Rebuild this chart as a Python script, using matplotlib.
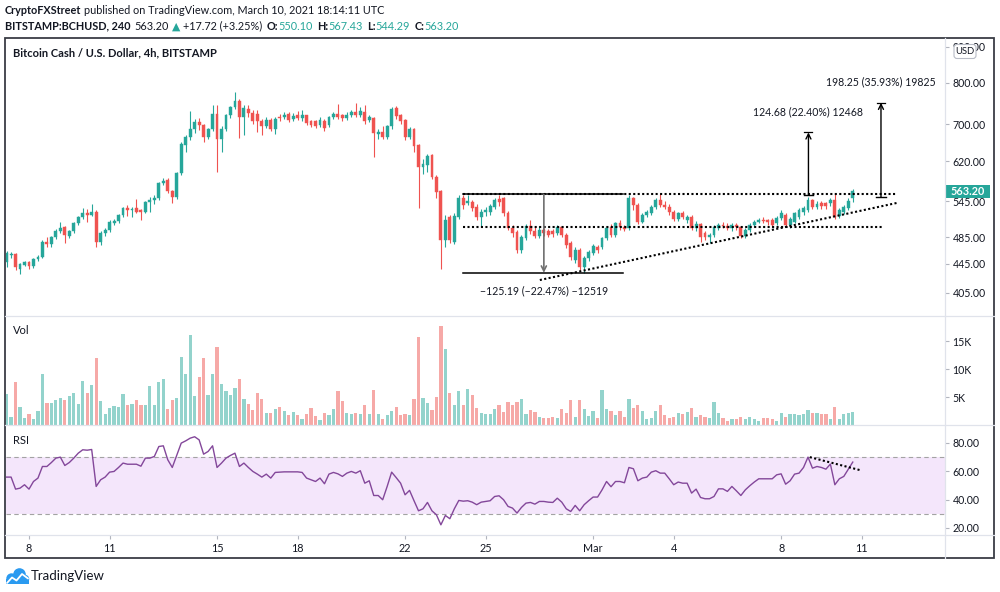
import numpy as np
import pandas as pd
import matplotlib
matplotlib.use("Agg")
import matplotlib.pyplot as plt
from matplotlib.patches import Rectangle, FancyBboxPatch, Circle

# ---------------- data ----------------
start_time = "2021-02-07 04:00"
bar_hours = 4

opens = [447,457,459,438,443,447,441,452,455,478,
         475,485,494,501,487,494,508,518,524,522,
         527,477,491,496,508,511,521,533,529,533,
         529,527,543,547,551,579,584,563,553,597,
         654,671,690,704,698,671,688,724,666,690,
         721,739,755,716,735,726,724,706,696,709,
         688,716,716,724,712,722,714,720,706,706,
         698,708,698,716,724,721,713,721,727,721,
         727,709,713,677,682,672,695,737,721,709,
         672,690,654,610,613,633,590,563,481,518,
         477,518,550,541,543,535,518,526,527,535,
         549,550,525,500,493,465,484,503,494,487,
         496,495,495,491,501,488,476,450,465,440,
         453,461,470,470,484,502,488,508,501,500,
         550,538,510,521,525,535,547,538,535,526,
         515,524,512,518,499,506,491,486,488,500,
         505,503,499,505,501,487,496,505,510,513,
         512,512,507,516,522,505,510,518,526,530,
         547,535,541,541,541,547,520,527,533,550.10]
highs = [463,462,461,446,449,449,454,458,480,485,
         487,498,510,503,497,510,520,533,531,540,
         529,494,499,512,514,523,535,539,535,549,
         531,546,552,556,581,587,588,566,600,660,
         676,730,712,714,700,692,745,745,695,724,
         742,777,760,745,745,733,733,712,716,713,
         716,724,727,727,725,730,733,722,710,709,
         716,711,719,727,746,724,727,733,750,740,
         745,720,716,690,695,698,740,742,724,712,
         693,692,656,625,635,636,593,566,522,521,
         524,556,557,557,548,540,532,535,540,551,
         556,553,528,505,497,488,506,512,501,503,
         499,498,498,504,503,491,479,470,468,456,
         465,474,473,486,503,506,510,512,505,556,
         553,541,524,530,538,551,558,545,540,529,
         527,528,521,521,511,508,494,492,504,508,
         509,507,508,508,503,499,508,513,516,517,
         515,516,519,530,524,517,527,533,536,553,
         549,545,545,544,550,560,533,538,551,567.43]
lows = [440,454,436,430,441,438,439,449,453,470,
        470,482,492,476,484,491,505,515,510,519,
        469,473,487,493,504,508,518,520,517,524,
        512,524,527,540,548,575,560,541,549,594,
        640,665,680,686,660,668,684,600,640,685,
        715,735,670,675,716,700,682,676,692,684,
        678,707,712,705,708,710,708,697,694,692,
        694,685,693,712,712,706,709,716,716,717,
        700,705,630,667,668,668,690,712,700,665,
        668,640,534,595,600,585,550,438,469,476,
        474,514,532,538,528,512,503,520,522,532,
        537,520,496,485,460,460,480,490,483,484,
        487,485,486,488,485,468,450,446,436,432,
        449,457,461,466,480,485,485,497,494,497,
        530,506,507,517,522,532,535,531,522,511,
        511,514,508,496,495,477,480,476,485,497,
        499,496,495,497,484,484,493,502,507,507,
        505,502,504,512,501,500,507,515,522,527,
        531,531,532,532,537,514,516,523,530,544.29]
closes = [460,459,440,444,447,441,452,455,477,475,
          485,494,499,488,494,508,518,524,522,527,
          477,491,496,510,511,521,533,529,532,527,
          527,543,547,551,578,582,563,553,597,656,
          671,690,704,698,671,688,724,666,690,721,
          739,755,716,737,726,708,706,696,709,688,
          712,713,721,709,719,714,720,703,698,696,
          709,692,716,724,716,713,721,727,721,730,
          706,716,680,682,672,695,735,718,708,672,
          690,652,610,615,631,590,561,481,513,481,
          520,550,538,545,533,518,527,530,536,547,
          543,525,500,491,465,485,503,494,487,497,
          491,488,490,501,488,473,455,465,440,453,
          462,471,465,484,500,488,507,501,498,550,
          538,510,521,526,535,547,538,535,526,515,
          524,518,518,499,506,486,486,488,501,505,
          503,499,505,501,487,496,505,510,513,511,
          509,505,516,524,505,514,524,530,533,547,
          535,540,536,536,547,518,530,535,545.48,563.20]
volumes_k = [5.5,1.5,7.7,3.2,1.3,1.9,1.1,2.5,9.1,3.9,
             3.9,4.4,4.8,4.5,5.2,5.8,3.8,7.9,5.8,7.2,
             12.0,4.3,1.9,3.0,3.4,3.3,5.5,3.5,3.8,4.5,
             3.6,3.5,7.0,3.6,7.7,8.2,2.9,4.5,4.9,12.1,
             9.1,16.1,5.2,8.5,12.0,5.4,9.1,14.0,7.3,6.1,
             5.4,6.6,8.2,4.6,3.8,2.7,5.8,4.6,2.1,2.2,
             2.9,3.2,2.5,1.8,2.3,1.8,1.1,1.9,3.1,1.6,
             0.9,2.1,1.7,2.9,6.0,4.3,2.1,2.0,2.1,1.9,
             3.6,1.9,6.3,1.9,1.1,1.7,2.5,3.2,1.7,1.9,
             1.7,4.6,15.7,4.8,3.9,2.7,5.0,17.7,13.6,5.7,
             3.5,6.1,3.6,6.4,5.4,3.0,2.1,1.9,2.0,2.9,
             3.5,2.3,4.1,3.6,4.1,4.6,2.0,2.7,2.3,1.4,
             1.3,1.3,1.5,1.3,2.9,2.1,4.5,1.4,4.5,2.9,
             1.6,2.5,1.3,6.3,2.9,2.5,1.8,2.5,1.4,4.7,
             3.1,3.5,2.5,1.0,1.3,2.5,3.6,1.8,1.3,1.4,
             2.1,1.9,2.3,3.0,1.4,1.8,1.4,1.3,4.1,2.1,
             1.3,0.8,1.1,1.0,1.4,1.1,1.4,1.1,0.8,1.3,
             1.3,1.0,0.8,2.1,1.4,1.9,1.9,1.8,1.9,2.7,
             2.1,2.1,1.9,1.9,1.1,3.2,1.0,2.0,2.1,2.3]
rsi_values = [55.9,55.9,47.4,48.1,50.5,47.4,52.8,55.2,63.4,63.4,
              66.2,69.3,70.0,64.1,66.2,69.3,72.8,75.2,74.9,75.4,
              49.3,54.0,55.9,59.4,59.9,62.7,65.8,65.0,65.0,65.0,
              63.6,69.3,69.3,70.5,77.5,78.0,68.1,62.7,71.2,79.9,
              81.5,83.4,84.4,82.2,72.1,74.0,78.0,62.7,65.8,69.3,
              71.2,72.8,63.4,65.8,62.7,59.9,58.0,55.9,58.0,55.2,
              59.2,59.4,59.6,59.6,59.6,59.6,59.2,55.2,54.0,52.8,
              55.2,51.2,58.0,59.2,58.2,56.4,58.7,59.9,58.7,60.4,
              51.6,53.3,42.9,42.9,39.9,49.3,59.4,55.6,51.6,43.4,
              46.5,39.2,32.1,33.5,38.0,32.1,29.3,22.2,28.8,26.5,
              33.5,39.4,38.9,39.2,38.2,36.4,38.2,38.7,39.2,42.2,
              42.7,39.9,35.2,34.0,30.5,34.5,37.5,38.0,36.8,38.7,
              38.7,38.2,38.0,41.0,38.2,33.5,31.6,35.9,32.1,36.4,
              39.2,41.8,41.8,46.9,52.8,49.1,52.8,52.8,51.9,62.7,
              61.8,53.3,55.2,55.9,59.4,60.4,58.7,58.7,54.7,50.5,
              52.4,51.6,51.6,44.6,47.4,41.5,40.6,40.6,42.2,47.6,
              47.6,45.8,49.3,46.2,42.9,46.9,49.8,52.4,54.7,54.7,
              54.7,54.7,57.5,58.2,50.9,53.3,58.0,58.7,62.7,70.0,
              62.2,63.4,62.7,61.5,65.1,50.5,54.7,56.4,61.5,66.5]

x_tick_dates = ["2021-02-08", "2021-02-11", "2021-02-15", "2021-02-18", "2021-02-22",
                "2021-02-25", "2021-03-01", "2021-03-04", "2021-03-08", "2021-03-11"]
x_tick_labels = ["8", "11", "15", "18", "22", "25", "Mar", "4", "8", "11"]
price_ticks = [405, 445, 485, 545, 620, 700, 800, 900]
volume_ticks = [5000, 10000, 15000]
volume_tick_labels = ["5K", "10K", "15K"]
rsi_ticks = [20, 40, 60, 80]
rsi_band = (30, 70)

# drawings (bar index, price)
resistance = 557.19
support = 501.3
range_bottom = 432.00
range_x = (102.0, 137.6)
range_arrow_x = 120.0
trend_pts = ((119.1, 422.0), (198.8, 541.9))
resistance_x = (102.0, 198.8)
support_x = (102.0, 195.7)
target1_x, target1_base, target1_top = 179.1, 556.62, 681.30
target2_x, target2_base, target2_top = 195.3, 551.80, 750.05
rsi_trend = ((179.4, 70.0), (190.9, 60.6))

# ---------------- setup ----------------
FAM = ["Lato", "DejaVu Sans"]
plt.rcParams["font.family"] = FAM
UP, DOWN = "#26a69a", "#ef5350"
UP_V, DOWN_V = "#93d3cc", "#f6a9a7"
TXT = "#131722"
GRID = "#e0e3eb"

opens = np.array(opens, float); highs = np.array(highs, float)
lows = np.array(lows, float); closes = np.array(closes, float)
volumes = np.array(volumes_k) * 1000
rsi_values = np.array(rsi_values)
n = len(closes)
idx = np.arange(n)
dates = pd.date_range(start_time, periods=n, freq=f"{bar_hours}h")


def date_to_idx(d):
    return (pd.Timestamp(d) - dates[0]) / pd.Timedelta(hours=bar_hours)


W, H = 1000, 592
fig = plt.figure(figsize=(W / 100, H / 100), dpi=100)
fig.patch.set_facecolor("white")

L_PX, R_PX = 5.5, 945
P_TOP, P_BOT, V_BOT, R_BOT, F_BOT, F_RIGHT = 38, 316, 425, 535, 558, 994


def axrect(top, bot):
    return [L_PX / W, 1 - bot / H, (R_PX - L_PX) / W, (bot - top) / H]


ax_p = fig.add_axes(axrect(P_TOP, P_BOT))
ax_v = fig.add_axes(axrect(P_BOT, V_BOT))
ax_r = fig.add_axes(axrect(V_BOT, R_BOT))

for ax in (ax_p, ax_v, ax_r):
    for s in ax.spines.values():
        s.set_visible(False)
    ax.set_xlim(-0.25, 209.6)
    ax.tick_params(axis="y", which="both", right=True, left=False, labelright=True,
                   labelleft=False, direction="out", length=3, width=0.8,
                   color="#b2b5be", pad=2.5, labelsize=7.6, labelcolor=TXT)
    ax.tick_params(axis="x", bottom=False, labelbottom=False)

# ---- price pane ----
ax_p.set_yscale("log")
ax_p.set_ylim(375.5, 925.7)
ax_p.set_yticks(price_ticks)
ax_p.set_yticklabels([f"{v:.2f}" for v in price_ticks])
ax_p.yaxis.set_minor_locator(matplotlib.ticker.NullLocator())

up = closes >= opens
cols = np.where(up, UP, DOWN)
ax_p.vlines(idx, lows, highs, colors=cols, lw=0.8, zorder=2)
b_lo = np.minimum(opens, closes)
b_hi = np.maximum(np.maximum(opens, closes), b_lo * 1.004)
ax_p.bar(idx, b_hi - b_lo, bottom=b_lo, width=0.64, color=cols, edgecolor=cols,
         linewidth=0.3, zorder=3)

dot = dict(color="black", lw=1.5, ls=(0, (1, 1.15)), zorder=4)
ax_p.plot(resistance_x, [resistance, resistance], **dot)
ax_p.plot(support_x, [support, support], **dot)
ax_p.plot([trend_pts[0][0], trend_pts[1][0]], [trend_pts[0][1], trend_pts[1][1]], **dot)

# measured range
ax_p.plot(range_x, [resistance, resistance], color="black", lw=1.1, zorder=4)
ax_p.plot(range_x, [range_bottom, range_bottom], color="black", lw=1.1, zorder=4)
ax_p.annotate("", xy=(range_arrow_x, range_bottom), xytext=(range_arrow_x, resistance),
              arrowprops=dict(arrowstyle="->", color="#707070", lw=1.2, shrinkA=0, shrinkB=0,
                              mutation_scale=9), zorder=5)
d0 = range_bottom - resistance
ax_p.text(range_arrow_x, 407.5,
          f"{d0:.2f} ({d0 / resistance * 100:.2f}%) {d0 * 100:.0f}".replace("-", "\u2212"),
          ha="center", va="center", fontsize=7.6, color=TXT)

for tx, base, top, ty in ((target1_x, target1_base, target1_top, 728),
                          (target2_x, target2_base, target2_top, 802.6)):
    ax_p.annotate("", xy=(tx, top), xytext=(tx, base),
                  arrowprops=dict(arrowstyle="->", color="black", lw=1.0, shrinkA=0,
                                  shrinkB=0, mutation_scale=9), zorder=5)
    ax_p.plot([tx - 1.1, tx + 1.1], [base, base], color="black", lw=1.0, zorder=5)
    ax_p.plot([tx - 0.9, tx + 0.9], [top, top], color="black", lw=0.9, zorder=5)
    dd = top - base
    ax_p.text(tx, ty, f"{dd:.2f} ({dd / base * 100:.2f}%) {dd * 100:.0f}",
              ha="center", va="center", fontsize=7.6, color=TXT)

# ---- volume pane ----
ax_v.set_ylim(0, 19500)
vcols = np.where(up, UP_V, DOWN_V)
ax_v.bar(idx, volumes, width=0.72, color=vcols, linewidth=0)
ax_v.set_yticks(volume_ticks)
ax_v.set_yticklabels(volume_tick_labels)

# ---- RSI pane ----
ax_r.set_ylim(15.0, 92.7)
ax_r.axhspan(rsi_band[0], rsi_band[1], color="#f4e6fb", zorder=0, lw=0)
for lv in rsi_band:
    ax_r.axhline(lv, color="#a3a3a3", lw=0.8, ls=(0, (4, 3)), zorder=1)
ax_r.plot(idx, rsi_values, color="#83479a", lw=1.0, zorder=3)
ax_r.plot([rsi_trend[0][0], rsi_trend[1][0]], [rsi_trend[0][1], rsi_trend[1][1]], **dot)
ax_r.set_yticks(rsi_ticks)
ax_r.set_yticklabels([f"{v:.2f}" for v in rsi_ticks])
ax_r.set_xticks([date_to_idx(d) for d in x_tick_dates])
ax_r.set_xticklabels(x_tick_labels)
ax_r.tick_params(axis="x", bottom=True, labelbottom=True, direction="out", length=3,
                 width=0.8, color="#b2b5be", pad=2.5, labelsize=7.8, labelcolor=TXT)

# ---------------- overlay ----------------
ov = fig.add_axes([0, 0, 1, 1], zorder=10)
ov.set_xlim(0, W)
ov.set_ylim(H, 0)
ov.axis("off")

for y in (P_BOT, V_BOT, R_BOT):
    ov.plot([5, F_RIGHT], [y, y], color=GRID, lw=0.9)
ov.plot([R_PX, R_PX], [P_TOP, F_BOT], color=GRID, lw=0.9)
ov.add_patch(Rectangle((5, P_TOP), F_RIGHT - 5, F_BOT - P_TOP, fill=False,
                       ec="#3a3d45", lw=1.3))

# last price label
yd = ax_p.transData.transform((0, closes[-1]))[1]
ylp = H - yd
ov.add_patch(Rectangle((R_PX, ylp - 6.5), 45, 13, fc=UP, ec=UP, lw=0))
ov.text(R_PX + 22.5, ylp, f"{closes[-1]:.2f}", color="white", fontsize=7.8,
        fontweight="bold", ha="center", va="center")

# USD box
ov.add_patch(FancyBboxPatch((954, 44.5), 22, 14, boxstyle="round,pad=0,rounding_size=3",
                            fc="white", ec="#b8bcc6", lw=0.8))
ov.text(965, 51.8, "USD", fontsize=6.8, color=TXT, ha="center", va="center")

# labels
ov.text(13, 53, "Bitcoin Cash / U.S. Dollar, 4h, BITSTAMP", fontsize=8, fontweight="bold",
        color=TXT, va="center")
ov.text(13, 331, "Vol", fontsize=8, color=TXT, va="center")
ov.text(13, 441, "RSI", fontsize=8, color=TXT, va="center")

renderer = fig.canvas.get_renderer()


def pieces(x, y, items, size=7.8):
    for txt, weight, color, gap in items:
        t = ov.text(x, y, txt, fontsize=size, fontweight=weight, color=color,
                    ha="left", va="center")
        x += t.get_window_extent(renderer=renderer).width + gap


pieces(5, 11, [("CryptoFXStreet", "bold", TXT, 3),
               ("published on TradingView.com, March 10, 2021 18:14:11 UTC", "normal", TXT, 0)])
chg = closes[-1] - closes[-2]
pct = chg / closes[-2] * 100
pieces(5, 26, [("BITSTAMP:BCHUSD, 240", "bold", TXT, 4),
               (f"{closes[-1]:.2f}", "normal", TXT, 3),
               ("\u25b2", "normal", UP, 3),
               (f"{chg:+.2f} ({pct:+.2f}%)", "normal", TXT, 4),
               ("O:", "bold", TXT, 0.5), (f"{opens[-1]:.2f}", "normal", UP, 4),
               ("H:", "bold", TXT, 0.5), (f"{highs[-1]:.2f}", "normal", UP, 4),
               ("L:", "bold", TXT, 0.5), (f"{lows[-1]:.2f}", "normal", UP, 4),
               ("C:", "bold", TXT, 0.5), (f"{closes[-1]:.2f}", "normal", UP, 0)])

# TradingView logo
LOGO = "#2a9af0"
for cx, cy, r in ((11.5, 578.5, 5.2), (19.5, 574.5, 6.3), (25.0, 579.0, 4.2)):
    ov.add_patch(Circle((cx, cy), r, fc=LOGO, ec="none"))
ov.add_patch(Rectangle((6.3, 578.5), 22.8, 5, fc=LOGO, ec="none"))
ov.plot([7, 12, 16.5, 22, 28], [583, 577.5, 580.5, 574, 578.5], color="white", lw=1.3,
        solid_capstyle="round")
ov.text(31, 576.5, "TradingView", fontsize=9.5, color=TXT, va="center")

fig.savefig("out.png", dpi=100, facecolor="white")
